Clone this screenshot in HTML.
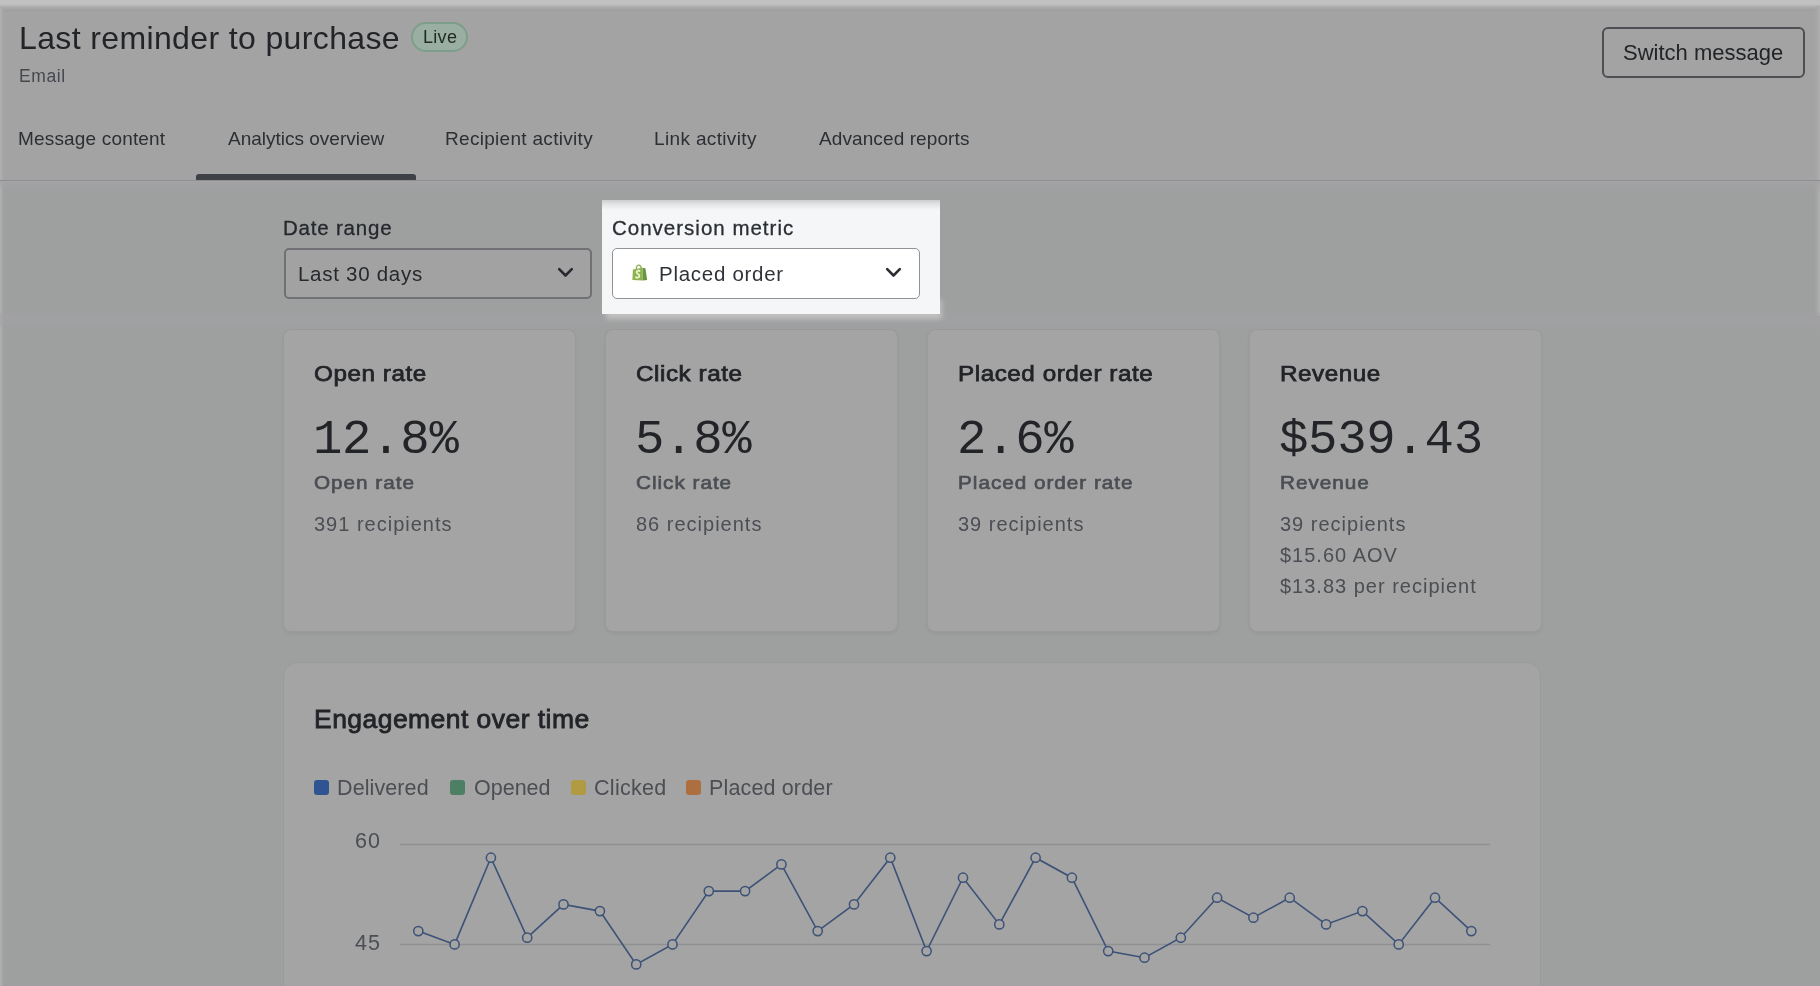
<!DOCTYPE html>
<html><head><meta charset="utf-8">
<style>
*{margin:0;padding:0;box-sizing:border-box}
html,body{width:1820px;height:986px;overflow:hidden}
body{position:relative;background:#9e9f9f;font-family:"Liberation Sans",sans-serif;color:#222428}
.a{position:absolute;white-space:nowrap;line-height:normal}
.a,.live span,.card div{will-change:transform}
#strip{position:absolute;left:0;top:0;width:1820px;height:14px;background:linear-gradient(to bottom,#c1c1c1 0,#c1c1c1 4px,#adadad 7px,#a0a0a0 10px,#a3a3a3 13px)}
#ledge{position:absolute;left:0;top:6px;width:5px;height:980px;background:linear-gradient(to right,#b3b3b3 0,#aaaaaa 1.5px,rgba(160,160,160,0) 4px)}
#redge{position:absolute;right:0;top:6px;width:6px;height:310px;background:linear-gradient(to left,#b0b0b0 0,#a8a8a8 2px,rgba(160,160,160,0) 6px)}
#header{position:absolute;left:0;top:12px;width:1820px;height:168px;background:#a3a3a3}
#sep{position:absolute;left:0;top:179.5px;width:1820px;height:1.5px;background:#8e8f90}
.title{left:18.5px;top:20px;font-size:32px;letter-spacing:0.37px}
.live{position:absolute;left:411px;top:22px;height:30px;width:57px;border:2px solid #7d9e8a;border-radius:15px;background:#9aaea2}
.live span{position:absolute;left:9.5px;top:3px;font-size:18px;color:#1f2a24;white-space:nowrap;letter-spacing:0.3px}
.email{left:18.5px;top:65.5px;font-size:17.5px;color:#45484d;letter-spacing:0.6px}
.btn{position:absolute;left:1602px;top:27px;width:203px;height:51px;border:2px solid #4d4f52;border-radius:6px}
.tab{top:128.4px;font-size:19px;color:#2c2f33}
.uline{position:absolute;left:196px;top:174px;width:220px;height:6px;background:#3e4146;border-radius:3px 3px 0 0}
.lbl{font-size:20.5px;color:#25282c;letter-spacing:0.8px;-webkit-text-stroke:0.3px currentColor}
.sel{position:absolute;width:308px;height:51px;border-radius:5px}
.chev{position:absolute;width:17px;height:11px}
.card{position:absolute;top:330px;width:291px;height:301px;background:#a4a4a4;border-radius:7px;box-shadow:0 0 0 1px #999a9b,0 2px 4px rgba(0,0,0,.07)}
.card .h{position:absolute;left:30px;top:31px;font-size:22.5px;color:#222428;white-space:nowrap;letter-spacing:0.5px;-webkit-text-stroke:0.75px #222428;transform-origin:0 0;transform:scaleX(1.078)}
.card .n{position:absolute;left:29px;top:81.5px;font-family:"Liberation Mono",monospace;font-size:49px;color:#222428;white-space:nowrap;letter-spacing:-0.3px}
.card .s{position:absolute;left:30px;top:142px;font-size:19px;color:#4b4e53;white-space:nowrap;letter-spacing:0.9px;-webkit-text-stroke:0.65px #4b4e53;transform-origin:0 0;transform:scaleX(1.09)}
.card .r{position:absolute;left:30px;top:179px;font-size:20px;color:#4b4e53;white-space:nowrap;line-height:30.8px;letter-spacing:1px}
#chart{position:absolute;left:284px;top:663px;width:1256px;height:400px;background:#a4a4a4;border-radius:14px;box-shadow:0 0 0 1px #999a9b}
#hlglow{position:absolute;left:606px;top:300px;width:336px;height:19px;background:#c0c0c0;filter:blur(2.5px)}
#hl{position:absolute;left:602px;top:200px;width:338px;height:114px;background:#f5f6f8;overflow:hidden}
#hl:before{content:"";position:absolute;left:0;top:0;width:338px;height:10px;background:linear-gradient(to bottom,#cbcccf 0,#e2e3e5 4px,#f5f6f8 10px)}
</style></head><body>
<div id="strip"></div>
<div id="header"></div>
<div id="ledge"></div><div id="redge"></div>
<div id="sep"></div>
<div style="position:absolute;left:0;top:181px;width:1820px;height:10px;background:linear-gradient(to bottom,rgba(164,164,167,.9),rgba(164,164,167,0))"></div>
<div style="position:absolute;left:0;top:311px;width:1820px;height:19px;background:linear-gradient(to bottom,rgba(162,162,164,0) 0,rgba(162,162,164,.6) 4px,rgba(162,162,164,.6) 12px,rgba(162,162,164,0) 18px)"></div>
<div class="a title">Last reminder to purchase</div>
<div class="live"><span>Live</span></div>
<div class="a email">Email</div>
<div class="btn"></div>
<div class="a" style="left:1623px;top:40.2px;font-size:22px;color:#222428">Switch message</div>
<div class="a tab" style="left:18px;letter-spacing:0.17px">Message content</div>
<div class="a tab" style="left:228px">Analytics overview</div>
<div class="a tab" style="left:445px;letter-spacing:0.3px">Recipient activity</div>
<div class="a tab" style="left:653.5px;letter-spacing:0.35px">Link activity</div>
<div class="a tab" style="left:819px;letter-spacing:0.1px">Advanced reports</div>
<div class="uline"></div>

<div class="a lbl" style="left:282.5px;top:215.5px">Date range</div>
<div class="sel" style="left:284px;top:248px;border:2px solid #6f7174;background:#a2a2a2"></div>
<div class="a" style="left:298px;top:262px;font-size:20.5px;color:#26292d;letter-spacing:0.72px">Last 30 days</div>
<svg class="chev" style="left:557px;top:267px" viewBox="0 0 17 11"><path d="M2.2 2.2 L8.5 8.5 L14.8 2.2" fill="none" stroke="#26292d" stroke-width="2.6" stroke-linecap="round" stroke-linejoin="round"/></svg>

<div class="card" style="left:284px"><div class="h">Open rate</div><div class="n">12.8%</div><div class="s">Open rate</div><div class="r">391 recipients</div></div>
<div class="card" style="left:606px"><div class="h">Click rate</div><div class="n">5.8%</div><div class="s">Click rate</div><div class="r">86 recipients</div></div>
<div class="card" style="left:928px"><div class="h">Placed order rate</div><div class="n">2.6%</div><div class="s">Placed order rate</div><div class="r">39 recipients</div></div>
<div class="card" style="left:1250px"><div class="h">Revenue</div><div class="n">$539.43</div><div class="s">Revenue</div><div class="r">39 recipients<br>$15.60 AOV<br>$13.83 per recipient</div></div>

<div id="chart"></div>
<div class="a" style="left:314px;top:703.5px;font-size:26.5px;color:#222428;letter-spacing:0.45px;-webkit-text-stroke:0.8px #222428">Engagement over time</div>
<div style="position:absolute;left:314px;top:780px;width:15px;height:15px;border-radius:3px;background:#2e5591"></div>
<div class="a" style="left:336.5px;top:775.8px;font-size:21.5px;color:#4b4e53;letter-spacing:0.1px">Delivered</div>
<div style="position:absolute;left:450px;top:780px;width:15px;height:15px;border-radius:3px;background:#4d7f64"></div>
<div class="a" style="left:474px;top:775.8px;font-size:21.5px;color:#4b4e53">Opened</div>
<div style="position:absolute;left:571px;top:780px;width:15px;height:15px;border-radius:3px;background:#b09a42"></div>
<div class="a" style="left:594px;top:775.8px;font-size:21.5px;color:#4b4e53;letter-spacing:0.3px">Clicked</div>
<div style="position:absolute;left:686px;top:780px;width:15px;height:15px;border-radius:3px;background:#ad6f3f"></div>
<div class="a" style="left:708.5px;top:775.8px;font-size:21.5px;color:#4b4e53;letter-spacing:0.15px">Placed order</div>
<div class="a" style="left:354.5px;top:828.5px;font-size:21.5px;color:#4b4e53;letter-spacing:1px">60</div>
<div class="a" style="left:354.5px;top:930.5px;font-size:21.5px;color:#4b4e53;letter-spacing:1px">45</div>
<svg style="position:absolute;left:0;top:0" width="1820" height="986">
<line x1="400" y1="844.5" x2="1490" y2="844.5" stroke="#8f9091" stroke-width="1.3"/>
<line x1="400" y1="944.5" x2="1490" y2="944.5" stroke="#8f9091" stroke-width="1.3"/>
<polyline points="418.3,931.1 454.6,944.4 490.9,857.7 527.2,937.7 563.5,904.4 599.9,911.1 636.2,964.4 672.5,944.4 708.8,891.1 745.1,891.1 781.4,864.4 817.7,931.1 854.0,904.4 890.3,857.7 926.6,951.1 963.0,877.7 999.3,924.4 1035.6,857.7 1071.9,877.7 1108.2,951.1 1144.5,957.7 1180.8,937.7 1217.1,897.7 1253.4,917.7 1289.7,897.7 1326.1,924.4 1362.4,911.1 1398.7,944.4 1435.0,897.7 1471.3,931.1" fill="none" stroke="#3d5277" stroke-width="1.6" stroke-linejoin="miter"/>
<g fill="#a4a4a4" stroke="#3d5277" stroke-width="1.5"><circle cx="418.3" cy="931.1" r="4.6"/><circle cx="454.6" cy="944.4" r="4.6"/><circle cx="490.9" cy="857.7" r="4.6"/><circle cx="527.2" cy="937.7" r="4.6"/><circle cx="563.5" cy="904.4" r="4.6"/><circle cx="599.9" cy="911.1" r="4.6"/><circle cx="636.2" cy="964.4" r="4.6"/><circle cx="672.5" cy="944.4" r="4.6"/><circle cx="708.8" cy="891.1" r="4.6"/><circle cx="745.1" cy="891.1" r="4.6"/><circle cx="781.4" cy="864.4" r="4.6"/><circle cx="817.7" cy="931.1" r="4.6"/><circle cx="854.0" cy="904.4" r="4.6"/><circle cx="890.3" cy="857.7" r="4.6"/><circle cx="926.6" cy="951.1" r="4.6"/><circle cx="963.0" cy="877.7" r="4.6"/><circle cx="999.3" cy="924.4" r="4.6"/><circle cx="1035.6" cy="857.7" r="4.6"/><circle cx="1071.9" cy="877.7" r="4.6"/><circle cx="1108.2" cy="951.1" r="4.6"/><circle cx="1144.5" cy="957.7" r="4.6"/><circle cx="1180.8" cy="937.7" r="4.6"/><circle cx="1217.1" cy="897.7" r="4.6"/><circle cx="1253.4" cy="917.7" r="4.6"/><circle cx="1289.7" cy="897.7" r="4.6"/><circle cx="1326.1" cy="924.4" r="4.6"/><circle cx="1362.4" cy="911.1" r="4.6"/><circle cx="1398.7" cy="944.4" r="4.6"/><circle cx="1435.0" cy="897.7" r="4.6"/><circle cx="1471.3" cy="931.1" r="4.6"/></g>
</svg>

<div id="hlglow"></div>
<div id="hl">
<div class="a lbl" style="left:9.5px;top:15.5px;color:#2b2e33;letter-spacing:1px">Conversion metric</div>
<div class="sel" style="left:10px;top:48px;border:1.8px solid #909297;background:#fff"></div>
<svg style="position:absolute;left:30px;top:64px" width="17" height="19" viewBox="0 0 17 19">
<path d="M4.3 5.2 C4.3 2.2 5.6 1.2 6.8 1.2 C8.1 1.2 9.1 2.4 9.3 4.6" fill="none" stroke="#8db150" stroke-width="1.3"/>
<path d="M0.9 5.4 L10.4 3.8 L10.9 16.5 L0.4 16.1 Z" fill="#8fb352"/>
<path d="M10.4 3.8 L13.4 4.3 L15.2 15.9 L10.9 16.5 Z" fill="#6b9541"/>
<path d="M7.6 7.2 C6.8 6.3 4.6 6.5 4.6 8.2 C4.6 9.9 7.4 9.9 7.4 11.9 C7.4 13.7 5.2 14 3.9 13.2" fill="none" stroke="#eef6d0" stroke-width="1.7" stroke-linecap="round"/>
</svg>
<div class="a" style="left:56.5px;top:62px;font-size:20.5px;color:#2f3237;letter-spacing:0.72px">Placed order</div>
<svg class="chev" style="left:283px;top:67px" viewBox="0 0 17 11"><path d="M2.2 2.2 L8.5 8.5 L14.8 2.2" fill="none" stroke="#2b2e33" stroke-width="2.6" stroke-linecap="round" stroke-linejoin="round"/></svg>
</div>
</body></html>
